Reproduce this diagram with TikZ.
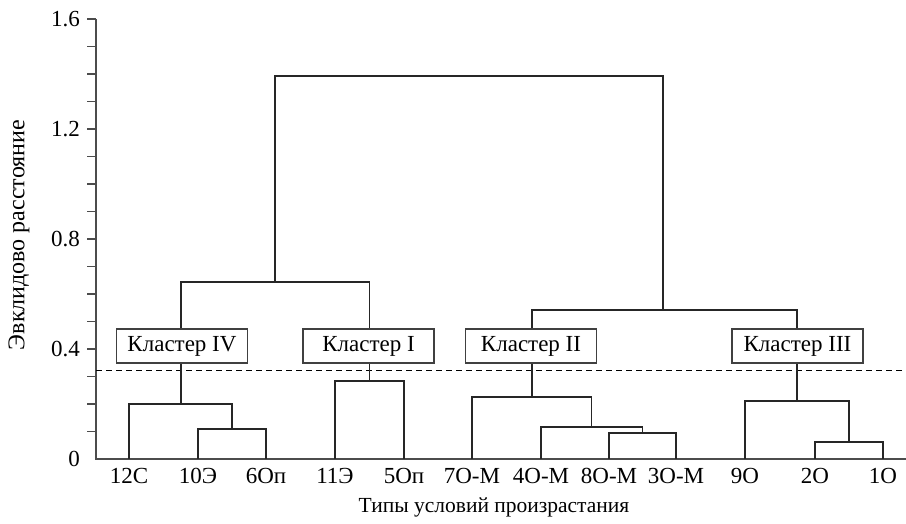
\documentclass[tikz,border=0pt]{standalone}
\usepackage{fontspec}
\setmainfont{Liberation Serif}
\begin{document}
\begin{tikzpicture}[x=1pt,y=-1pt,
  every node/.style={font=\fontsize{23}{27}\selectfont, inner sep=0pt},
  axisline/.style={line width=1.3pt, draw=black!70},
  dend/.style={line width=1.8pt, draw=black!85},
  clbox/.style={draw=black!75, line width=1.1pt, fill=white, minimum width=131pt, minimum height=34pt},
  leaflbl/.style={anchor=base},
  ticklbl/.style={anchor=east}]
\useasboundingbox (0,0) rectangle (906,523);
% axes
\coordinate (O) at (96,459);
\coordinate (Ytop) at (96,19);
\coordinate (Xend) at (906,459);
\draw[axisline] (Ytop) -- (O) -- (Xend);
\foreach \k in {1,...,16}{
  \draw[axisline] (96,459-27.5*\k) -- (87,459-27.5*\k);
}
\node[ticklbl] (t0) at (80,459) {0};
\node[ticklbl] (t1) at (80,349) {0.4};
\node[ticklbl] (t2) at (80,239) {0.8};
\node[ticklbl] (t3) at (80,129) {1.2};
\node[ticklbl] (t4) at (80,19) {1.6};
\node[rotate=90, font=\fontsize{24}{28}\selectfont] (ytitle) at (19,235) {Эвклидово расстояние};
\node[anchor=base, font=\fontsize{21.5}{26}\selectfont] (xtitle) at (494,512) {Типы условий произрастания};
% leaves
\foreach \n/\x/\t in {1/129/12С,2/198/10Э,3/266/6Оп,4/335/11Э,5/404/5Оп,6/472/7О-М,7/541/4О-М,8/609/8О-М,9/676/3О-М,10/745/9О,11/815/2О,12/883/1О}{
  \coordinate (L\n) at (\x,459);
  \node[leaflbl] (lab\n) at (\x,483) {\t};
}
% merge points
\coordinate (ma) at (232,428.7);
\coordinate (mb) at (181,403.7);
\coordinate (mc) at (369.5,380.7);
\coordinate (md) at (275,282);
\coordinate (me) at (642.5,432.7);
\coordinate (mf) at (591.5,426.7);
\coordinate (mg) at (532,397.3);
\coordinate (mh) at (849,442.3);
\coordinate (mi) at (797,400.7);
\coordinate (mj) at (663,310.3);
\coordinate (mk) at (468,75.7);
% dashed threshold
\coordinate (dl) at (96,370);
\coordinate (dr) at (906,370);
\draw[line width=1pt, dash pattern=on 6pt off 4pt] (dl) -- (dr);
% dendrogram
\draw[dend] (L2) |- (ma) -| (L3);
\draw[dend] (L1) |- (mb) -| (ma);
\draw[dend] (L4) |- (mc) -| (L5);
\draw[dend] (mb) |- (md) -| (mc);
\draw[dend] (L8) |- (me) -| (L9);
\draw[dend] (L7) |- (mf) -| (me);
\draw[dend] (L6) |- (mg) -| (mf);
\draw[dend] (L11) |- (mh) -| (L12);
\draw[dend] (L10) |- (mi) -| (mh);
\draw[dend] (mg) |- (mj) -| (mi);
\draw[dend] (md) |- (mk) -| (mj);
% cluster boxes
\node[clbox] (c4) at (182,346) {Кластер IV};
\node[clbox] (c1) at (368.5,346) {Кластер I};
\node[clbox] (c2) at (531,346) {Кластер II};
\node[clbox] (c3) at (797.5,346) {Кластер III};
\end{tikzpicture}
\end{document}
